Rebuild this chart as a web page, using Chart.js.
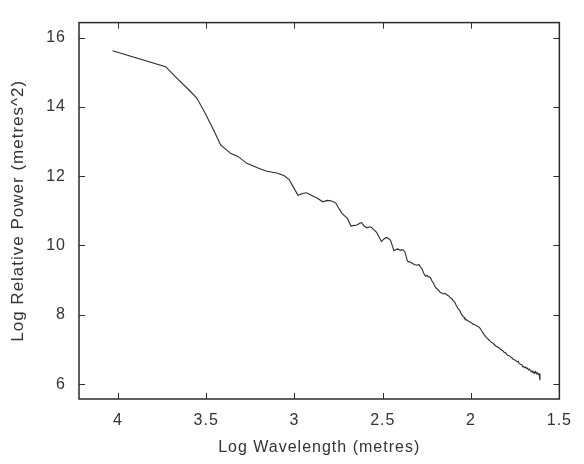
<!DOCTYPE html>
<html>
<head>
<meta charset="utf-8">
<script src="https://cdn.jsdelivr.net/npm/chart.js@4.4.1/dist/chart.umd.min.js"></script>
<style>
  html, body { margin: 0; padding: 0; background: #fff; }
  #wrap { width: 584px; height: 464px; }
</style>
</head>
<body>
<div id="wrap"><canvas id="spectrum-canvas" width="584" height="464"></canvas></div>
<script>
// log wavelength (x, plotted right-to-left) vs log relative power (y)
const logWavelength = [
  4.03, 3.73, 3.656, 3.60, 3.554, 3.507, 3.46, 3.418, 3.36, 3.32,
  3.27, 3.20, 3.156, 3.10, 3.06, 3.03, 3.007, 2.98, 2.955, 2.933,
  2.915, 2.896, 2.87, 2.84, 2.815, 2.794, 2.767, 2.75, 2.73, 2.70,
  2.68, 2.66, 2.646, 2.63, 2.62, 2.605, 2.59, 2.575, 2.563, 2.55,
  2.535, 2.52, 2.507, 2.495, 2.48, 2.468, 2.456, 2.445, 2.437, 2.425,
  2.415, 2.40, 2.387, 2.375, 2.36, 2.345, 2.322, 2.305, 2.295, 2.285,
  2.278, 2.27, 2.263, 2.257, 2.25, 2.243, 2.236, 2.23, 2.222, 2.215,
  2.208, 2.20, 2.194, 2.187, 2.18, 2.174, 2.165, 2.155, 2.146, 2.137,
  2.128, 2.12, 2.11, 2.10, 2.092, 2.085, 2.078, 2.072, 2.064, 2.055,
  2.05, 2.044, 2.04, 2.035, 2.022, 2.01, 2.00, 1.989, 1.98, 1.97,
  1.96, 1.952, 1.943, 1.935, 1.925, 1.915, 1.908, 1.90, 1.893, 1.887,
  1.878, 1.87, 1.86, 1.85, 1.84, 1.83, 1.822, 1.813, 1.806, 1.80,
  1.794, 1.785, 1.776, 1.77, 1.765, 1.758, 1.75, 1.745, 1.739, 1.733,
  1.727, 1.72, 1.713, 1.707, 1.702, 1.697, 1.69, 1.685, 1.68, 1.675,
  1.67, 1.665, 1.66, 1.655, 1.65, 1.645, 1.64, 1.635, 1.63, 1.625,
  1.62, 1.615, 1.61
];
const logPower = [
  15.62, 15.16, 14.78, 14.50, 14.26, 13.83, 13.35, 12.90, 12.65, 12.57,
  12.37, 12.22, 12.14, 12.09, 12.02, 11.90, 11.69, 11.45, 11.50, 11.52,
  11.48, 11.43, 11.36, 11.26, 11.30, 11.29, 11.23, 11.08, 10.92, 10.78,
  10.56, 10.58, 10.59, 10.64, 10.66, 10.56, 10.51, 10.54, 10.52, 10.45,
  10.38, 10.24, 10.11, 10.18, 10.23, 10.20, 10.15, 9.98, 9.85, 9.88,
  9.90, 9.86, 9.88, 9.82, 9.54, 9.52, 9.45, 9.43, 9.45, 9.37,
  9.33, 9.22, 9.15, 9.11, 9.14, 9.10, 9.09, 9.07, 8.98, 8.93,
  8.85, 8.78, 8.76, 8.72, 8.68, 8.64, 8.63, 8.60, 8.62, 8.57,
  8.55, 8.50, 8.47, 8.40, 8.36, 8.28, 8.22, 8.16, 8.12, 8.02,
  7.99, 7.94, 7.93, 7.88, 7.84, 7.80, 7.78, 7.73, 7.72, 7.68,
  7.66, 7.63, 7.56, 7.50, 7.42, 7.35, 7.32, 7.28, 7.25, 7.21,
  7.19, 7.15, 7.10, 7.07, 7.04, 6.99, 6.97, 6.92, 6.91, 6.87,
  6.83, 6.82, 6.78, 6.77, 6.73, 6.71, 6.69, 6.67, 6.64, 6.66,
  6.59, 6.57, 6.56, 6.50, 6.51, 6.47, 6.49, 6.45, 6.46, 6.41,
  6.43, 6.40, 6.36, 6.38, 6.34, 6.35, 6.31, 6.36, 6.30, 6.33,
  6.28, 6.30, 6.11
];
const xTicks = [4, 3.5, 3, 2.5, 2, 1.5];
const yTicks = [6, 8, 10, 12, 14, 16];

const INK = '#2b2b2b';
const FONT = "'Liberation Sans', Arial, sans-serif";

// the scanned original has rather wide lettering
const wideText = {
  id: 'wideText',
  beforeUpdate(chart) { chart.ctx.letterSpacing = '1px'; },
  beforeDraw(chart) { chart.ctx.letterSpacing = '1px'; }
};

// gnuplot style frame: full box with ticks pointing inwards on all four sides
const frameTicks = {
  id: 'frameTicks',
  afterDraw(chart) {
    const c = chart.ctx, a = chart.chartArea;
    const xs = chart.scales.x, ys = chart.scales.y;
    const len = 6;
    c.save();
    c.strokeStyle = INK;
    c.lineWidth = 1.5;
    c.strokeRect(a.left, a.top, a.right - a.left, a.bottom - a.top);
    c.lineWidth = 1;
    c.beginPath();
    xTicks.forEach(v => {
      const px = Math.round(xs.getPixelForValue(v)) + 0.5;
      c.moveTo(px, a.bottom); c.lineTo(px, a.bottom - len);
      c.moveTo(px, a.top); c.lineTo(px, a.top + len);
    });
    yTicks.forEach(v => {
      const py = Math.round(ys.getPixelForValue(v)) + 0.5;
      c.moveTo(a.left, py); c.lineTo(a.left + len, py);
      c.moveTo(a.right, py); c.lineTo(a.right - len, py);
    });
    c.stroke();
    c.restore();
  }
};

const ctx = document.getElementById('spectrum-canvas').getContext('2d');
const spectrumChart = new Chart(ctx, {
  type: 'line',
  data: {
    datasets: [{
      data: logWavelength.map((x, i) => ({ x: x, y: logPower[i] })),
      borderColor: INK,
      borderWidth: 1.1,
      pointRadius: 0,
      fill: false,
      tension: 0
    }]
  },
  plugins: [wideText, frameTicks],
  options: {
    responsive: false,
    animation: false,
    layout: { padding: { top: 19, right: 17, left: 0, bottom: 0 } },
    plugins: { legend: { display: false }, tooltip: { enabled: false } },
    scales: {
      x: {
        type: 'linear',
        reverse: true,
        min: 1.5,
        max: 4.22,
        afterBuildTicks: s => { s.ticks = xTicks.map(v => ({ value: v })); },
        afterFit: s => { s.height = 65; },
        grid: { display: false, drawTicks: false },
        border: { display: false },
        ticks: {
          padding: 12,
          color: '#333',
          font: { family: FONT, size: 16 },
          maxRotation: 0,
          callback: v => String(v)
        },
        title: {
          display: true,
          text: 'Log Wavelength (metres)',
          color: '#333',
          font: { family: FONT, size: 16 },
          padding: { top: 0, bottom: 7 }
        }
      },
      y: {
        type: 'linear',
        min: 5.57,
        max: 16.43,
        afterBuildTicks: s => { s.ticks = yTicks.map(v => ({ value: v })); },
        afterFit: s => { s.width = 79; },
        grid: { display: false, drawTicks: false },
        border: { display: false },
        ticks: {
          padding: 13,
          color: '#333',
          font: { family: FONT, size: 16 },
          callback: v => String(v)
        },
        title: {
          display: true,
          text: 'Log Relative Power (metres^2)',
          color: '#333',
          font: { family: FONT, size: 17 },
          padding: { top: 8, bottom: 0 }
        }
      }
    }
  }
});
</script>
</body>
</html>
